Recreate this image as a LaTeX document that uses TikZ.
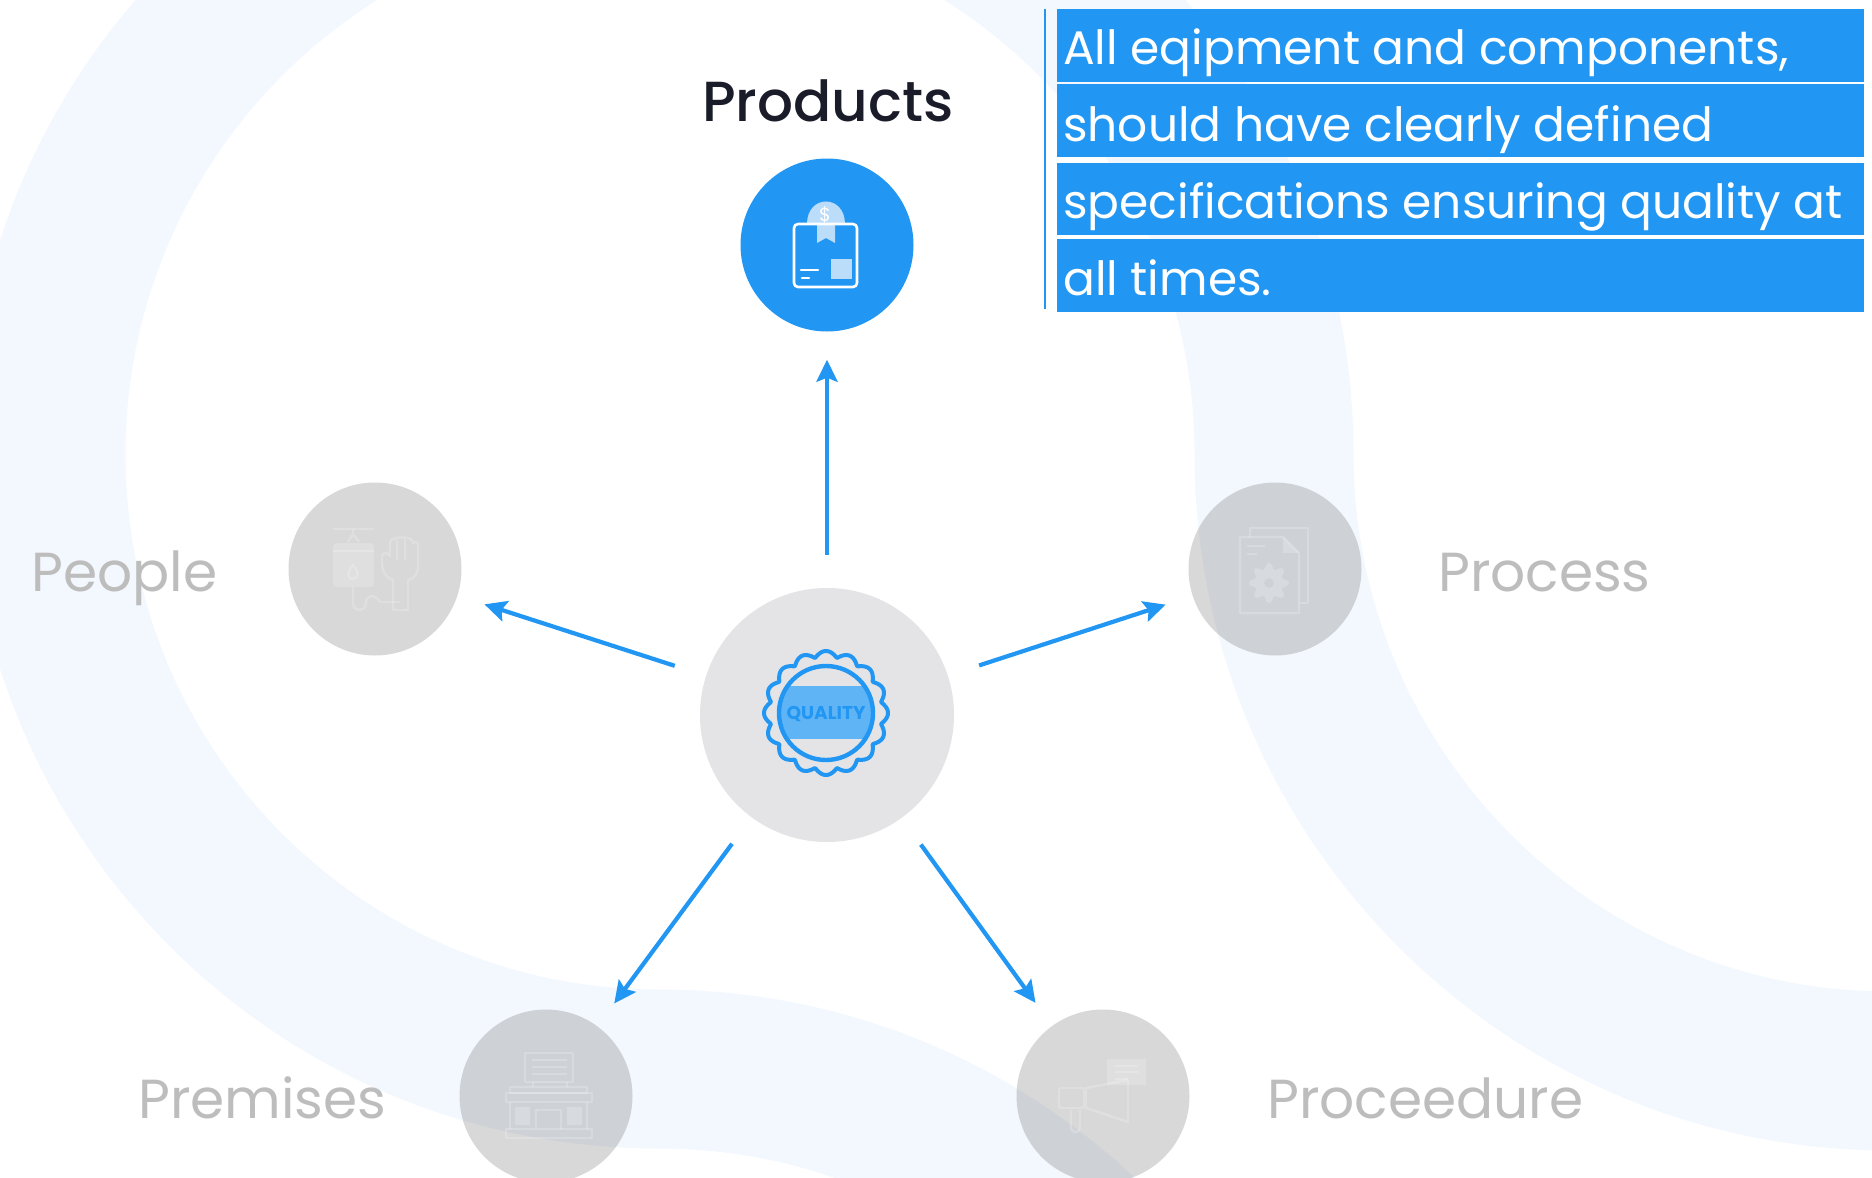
\documentclass[tikz,border=0pt]{standalone}
\usepackage{fontspec}
\setmainfont{Poppins}
\newfontfamily\qmedium{Poppins Medium}
\usetikzlibrary{arrows.meta}
\definecolor{qblue}{HTML}{2196F3}
\definecolor{qband}{HTML}{F3F8FE}
\definecolor{qpale}{HTML}{BBDDFA}
\definecolor{qdark}{HTML}{1A1D29}
\definecolor{qlabel}{HTML}{BDBDBD}
\definecolor{qhub}{HTML}{E4E4E6}
\newcommand{\qsize}[1]{\fontsize{#1}{#1}\selectfont}
\tikzset{
  greydisc/.style={circle,inner sep=0pt,minimum size=173pt,fill=black!66,fill opacity=0.23,text opacity=1},
  hubdisc/.style={circle,inner sep=0pt,minimum size=254pt,fill=qhub},
  activedisc/.style={circle,inner sep=0pt,minimum size=173pt,fill=qblue},
  spoke/.style={qblue,line width=4.2pt,-{Stealth[length=22pt,width=21pt,inset=4pt]}},
  barbox/.style={anchor=north west,inner sep=0pt,minimum width=807pt,fill=qblue},
  bartext/.style={anchor=base west,inner sep=0pt,text=white,font=\qsize{47.1}},
  sidelabel/.style={anchor=base west,inner sep=0pt,text=qlabel,font=\qsize{55}},
  ghost/.style={draw=white,draw opacity=0.2,line width=2.4pt,line join=round},
  ghostfill/.style={fill=white,fill opacity=0.2},
  whiteline/.style={draw=white,line width=2.6pt,line join=round,line cap=round}
}
\begin{document}
\begin{tikzpicture}[x=1pt,y=-1pt]
\useasboundingbox (0,0) rectangle (1872,1178);
\clip (0,0) rectangle (1872,1178);
\fill[white] (0,0) rectangle (1872,1178);
% background band
\draw[qband,line width=159pt]
  (2400,1071) -- (1889,1071)
  .. controls (1549,1071) and (1274,794) .. (1274,454)
  .. controls (1274,114) and (1000,-161) .. (661,-161)
  .. controls (322,-161) and (46,114) .. (46,454)
  .. controls (46,794) and (319,1069) .. (659,1069)
  .. controls (999,1069) and (1274,1344) .. (1274,1684);
% discs
\node[hubdisc] (hub) at (827,715) {};
\node[activedisc] (products) at (827,245) {};
\node[greydisc] (people) at (375,569) {};
\node[greydisc] (process) at (1275,569) {};
\node[greydisc] (premises) at (546,1096) {};
\node[greydisc] (proceedure) at (1103,1096) {};
% connectors
\draw[spoke,shorten <=33pt,shorten >=28pt] (hub) -- (products);
\draw[spoke,shorten <=160pt,shorten >=115pt] (hub.center) -- (people.center);
\draw[spoke,shorten <=160pt,shorten >=115pt] (hub.center) -- (process.center);
\draw[spoke,shorten <=160pt,shorten >=115pt] (hub.center) -- (premises.center);
\draw[spoke,shorten <=160pt,shorten >=115pt] (hub.center) -- (proceedure.center);
% quality seal
\begin{scope}
  \clip (826,713) circle[radius=47pt];
  \fill[qblue!72!white] (770,686) rectangle (880,739);
\end{scope}
\draw[qblue,line width=4.4pt] (826,713) circle[radius=47pt];
\draw[qblue,line width=4pt,line join=round] plot[domain=0:360,samples=361]
  ({826+(56+6*abs(cos(8*\x)))*cos(\x)},{713+(56+6*abs(cos(8*\x)))*sin(\x)}) -- cycle;
\node[inner sep=0pt,text=qblue,font=\qsize{18.5}\bfseries] (sealtext) at (826,714) {QUALITY};
% products icon
\fill[qpale] (807,224) .. controls (807,194) and (845,194) .. (845,224) -- cycle;
\node[inner sep=0pt,text=white,font=\qsize{19}] (dollar) at (825,215) {\$};
\fill[qpale] (817,224) -- (835,224) -- (835,243) -- (826,238) -- (817,243) -- cycle;
\draw[whiteline,rounded corners=4pt] (794,224) rectangle (857,287);
\fill[qpale] (831,259) rectangle (852,279);
\draw[whiteline] (801,270) -- (818,270);
\draw[whiteline] (802,278) -- (809,278);
% people icon
\draw[ghost] (333,529) -- (374,529);
\draw[ghost] (353,529) -- (353,535) (348,542) -- (353,534) -- (359,542);
\fill[ghostfill,rounded corners=4pt] (333,543) rectangle (374,587);
\draw[ghost] (333,551) -- (374,551);
\draw[ghost] (353,565) .. controls (347,572) and (347,579) .. (353,579) .. controls (359,579) and (359,572) .. (353,565) -- cycle;
\draw[ghost] (353,587) -- (353,603) .. controls (353,612) and (366,612) .. (366,603) .. controls (366,594) and (376,594) .. (380,602) -- (400,602);
\draw[ghost] (393,610) -- (393,580) .. controls (386,578) and (382,572) .. (382,562) -- (382,556) .. controls (382,552) and (388,552) .. (390,556)
  -- (390,542) .. controls (390,537) and (412,535) .. (413,542)
  -- (413,543) .. controls (416,541) and (418,543) .. (418,546) -- (418,566) .. controls (418,574) and (414,579) .. (408,580) -- (408,610) -- cycle;
\draw[ghost] (397,540) -- (397,560) (405,539) -- (405,560);
% process icon
\draw[ghost] (1250,537) -- (1250,528) -- (1308,528) -- (1308,603) -- (1299,603);
\draw[ghost] (1240,537) -- (1283,537) -- (1299,553) -- (1299,613) -- (1240,613) -- cycle;
\fill[ghostfill] (1283,537) -- (1283,553) -- (1299,553) -- cycle;
\draw[ghost] (1247,546) -- (1265,546) (1247,554) -- (1257,554);
\fill[ghostfill,even odd rule] plot[domain=0:360,samples=181]
  ({1269+(17+3*cos(8*\x))*cos(\x)},{583+(17+3*cos(8*\x))*sin(\x)}) -- cycle
  (1269,583) circle[radius=5pt];
% premises icon
\draw[ghost] (525,1053) rectangle (573,1082);
\draw[ghost] (532,1060) -- (567,1060) (532,1067) -- (567,1067) (532,1074) -- (567,1074);
\draw[ghost] (533,1082) -- (533,1087) (567,1082) -- (567,1087);
\draw[ghost] (510,1087) rectangle (587,1093);
\draw[ghost] (506,1093) rectangle (592,1102);
\draw[ghost] (510,1102) -- (510,1129) (587,1102) -- (587,1129);
\draw[ghost] (506,1129) rectangle (592,1138);
\fill[ghostfill] (515,1107) rectangle (530,1125);
\fill[ghostfill] (567,1107) rectangle (582,1125);
\draw[ghost] (536,1129) -- (536,1110) -- (561,1110) -- (561,1129);
% proceedure icon
\fill[ghostfill] (1107,1059) rectangle (1146,1085);
\draw[ghost] (1115,1066) -- (1138,1066) (1115,1072) -- (1138,1072) (1115,1079) -- (1128,1079);
\draw[ghost,rounded corners=2pt] (1059,1088) rectangle (1084,1108);
\draw[ghost] (1086,1088) -- (1128,1080) -- (1128,1122) -- (1086,1108) -- cycle;
\draw[ghost,rounded corners=4pt] (1071,1110) -- (1071,1132) -- (1080,1132) -- (1080,1110);
% labels
\node[anchor=base,inner sep=0pt,text=qdark,font=\qmedium\qsize{56.5}] (productslabel) at (828,121) {Products};
\node[sidelabel] (peoplelabel) at (31,591) {People};
\node[sidelabel] (processlabel) at (1438,591) {Process};
\node[sidelabel] (premiseslabel) at (138,1118) {Premises};
\node[sidelabel] (proceedurelabel) at (1267,1118) {Proceedure};
% text panel
\draw[qblue,line width=2pt] (1044.5,9) -- (1044.5,309);
\node[barbox,minimum height=73pt] (bara) at (1057,9) {};
\node[barbox,minimum height=73pt] (barb) at (1057,84) {};
\node[barbox,minimum height=72pt] (barc) at (1057,163) {};
\node[barbox,minimum height=73pt] (bard) at (1057,239) {};
\node[bartext] (texta) at (1063,64) {All eqipment and components,};
\node[bartext] (textb) at (1063,141) {should have clearly defined};
\node[bartext] (textc) at (1063,218) {specifications ensuring quality at};
\node[bartext] (textd) at (1063,295) {all times.};
\end{tikzpicture}
\end{document}
